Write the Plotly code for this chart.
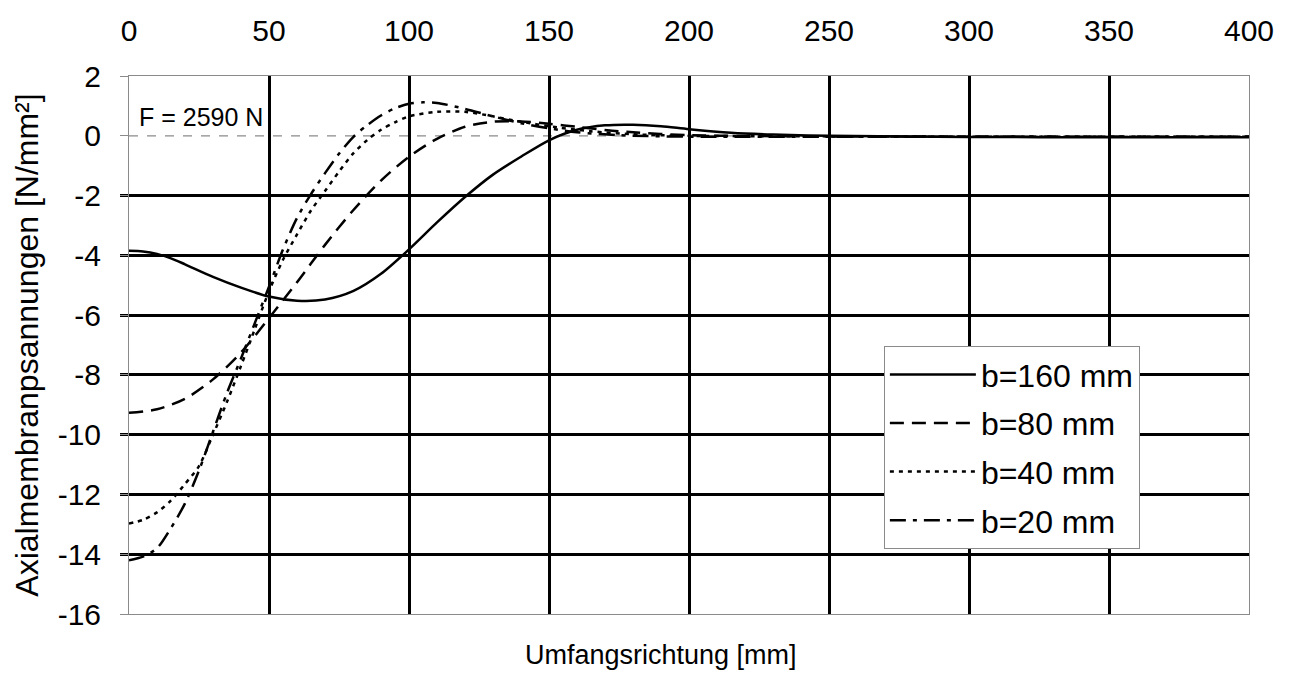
import plotly.graph_objects as go

# Circumferential position [mm] and axial membrane stress [N/mm²] per strip width b
x_b160 = [0, 5, 10, 15, 20, 30, 40, 50, 60, 70, 80, 90, 100, 110, 120, 130, 140, 150, 160,
          170, 180, 190, 200, 215, 230, 250, 300, 350, 400]
y_b160 = [-3.85, -3.87, -3.95, -4.1, -4.3, -4.72, -5.08, -5.38, -5.52, -5.48, -5.2, -4.62,
          -3.8, -2.9, -2.05, -1.3, -0.7, -0.15, 0.2, 0.35, 0.37, 0.32, 0.22, 0.1, 0.04, 0.0,
          -0.04, -0.05, -0.05]

x_b80 = [0, 10, 20, 30, 40, 50, 60, 70, 80, 90, 100, 110, 120, 130, 140, 150, 160, 175,
         200, 250, 300, 400]
y_b80 = [-9.27, -9.15, -8.8, -8.15, -7.25, -6.1, -4.9, -3.65, -2.5, -1.5, -0.7, -0.1, 0.3,
         0.47, 0.48, 0.4, 0.3, 0.15, 0.02, -0.02, -0.03, -0.03]

x_b40 = [0, 5, 10, 15, 20, 25, 30, 35, 40, 45, 50, 55, 60, 65, 70, 75, 80, 85, 90, 95, 100,
         110, 120, 130, 140, 150, 165, 180, 200, 250, 300, 400]
y_b40 = [-12.97, -12.85, -12.6, -12.2, -11.65, -11.05, -10.0, -8.9, -7.7, -6.45, -5.2, -4.15,
         -3.3, -2.5, -1.85, -1.2, -0.6, -0.15, 0.2, 0.45, 0.65, 0.8, 0.8, 0.65, 0.47, 0.32,
         0.15, 0.05, 0.0, -0.02, -0.03, -0.03]

x_b20 = [0, 5, 10, 15, 20, 25, 30, 35, 40, 45, 50, 55, 60, 65, 70, 75, 80, 85, 90, 95, 100,
         105, 110, 120, 130, 140, 150, 160, 175, 200, 250, 300, 400]
y_b20 = [-14.2, -14.08, -13.8, -13.12, -12.3, -11.2, -9.9, -8.6, -7.45, -6.25, -5.05, -3.8,
         -2.75, -1.95, -1.25, -0.6, -0.05, 0.35, 0.68, 0.92, 1.07, 1.12, 1.1, 0.9, 0.65, 0.42,
         0.25, 0.12, 0.02, -0.03, -0.03, -0.03, -0.03]

x_ticks = [0, 50, 100, 150, 200, 250, 300, 350, 400]
y_ticks = [2, 0, -2, -4, -6, -8, -10, -12, -14, -16]
x_grid = [50, 100, 150, 200, 250, 300, 350]
y_grid = [-2, -4, -6, -8, -10, -12, -14]

FONT = "Liberation Sans, Arial, sans-serif"

series = [
    ("b=160 mm", x_b160, y_b160, "solid"),
    ("b=80 mm", x_b80, y_b80, "14px,8px"),
    ("b=40 mm", x_b40, y_b40, "4px,5px"),
    ("b=20 mm", x_b20, y_b20, "16px,7px,4px,7px"),
]

fig = go.Figure()
for name, xs, ys, dash in series:
    fig.add_trace(go.Scatter(
        x=xs, y=ys, mode="lines", name=name, legendgroup=name,
        line=dict(color="black", width=2.5, dash=dash, shape="spline", smoothing=0.8),
    ))

# dashed zero reference line
fig.add_shape(type="line", xref="x domain", x0=0, x1=1, yref="y", y0=0, y1=0,
              line=dict(color="#8a8a8a", width=1.2, dash="dash"), layer="below")

fig.add_annotation(x=3, y=0.62, xref="x", yref="y", text="F = 2590 N",
                   showarrow=False, xanchor="left", yanchor="middle",
                   font=dict(family=FONT, size=25, color="black"))

fig.add_annotation(x=0.475, y=-0.076, xref="paper", yref="paper",
                   text="Umfangsrichtung [mm]", showarrow=False,
                   xanchor="center", yanchor="middle",
                   font=dict(family=FONT, size=27, color="black"))

fig.update_layout(
    width=1294, height=693,
    margin=dict(l=129, r=45, t=76, b=79),
    paper_bgcolor="white", plot_bgcolor="white",
    font=dict(family=FONT, color="black"),
    showlegend=True,
    legend=dict(
        x=0.674, y=0.498, xanchor="left", yanchor="top",
        bgcolor="white", bordercolor="#8a8a8a", borderwidth=1,
        font=dict(family=FONT, size=32, color="black"),
        tracegroupgap=4, itemwidth=86, entrywidth=262,
    ),
    xaxis=dict(
        side="top", range=[0, 400], tickvals=x_ticks,
        showgrid=False, zeroline=False,
        showline=True, linecolor="#8a8a8a", linewidth=1, mirror=True,
        ticks="", ticklabelstandoff=22,
        tickfont=dict(family=FONT, size=30, color="black"),
        minor=dict(tickvals=x_grid, showgrid=True, gridcolor="black", gridwidth=2.5),
    ),
    yaxis=dict(
        range=[-16, 2], tickvals=y_ticks, ticktext=[str(v) for v in y_ticks],
        showgrid=False, zeroline=False,
        showline=True, linecolor="#8a8a8a", linewidth=1, mirror=True,
        ticks="outside", ticklen=8, tickcolor="#8a8a8a", tickwidth=1,
        ticklabelstandoff=13,
        tickfont=dict(family=FONT, size=30, color="black"),
        title=dict(text="Axialmembranpsannungen [N/mm²]", standoff=9,
                   font=dict(family=FONT, size=32, color="black")),
        minor=dict(tickvals=y_grid, showgrid=True, gridcolor="black", gridwidth=2.5,
                   ticks="outside", ticklen=8, tickcolor="black", tickwidth=2.5),
    ),
)

fig.write_html("out.html")
